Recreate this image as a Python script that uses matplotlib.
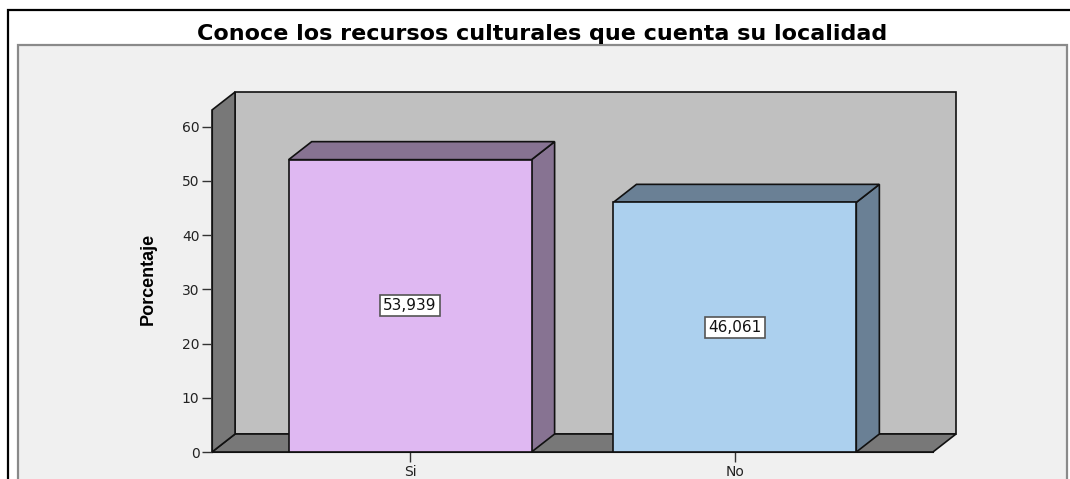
import matplotlib.pyplot as plt
from matplotlib.patches import Polygon, Rectangle

# data
categories = ['Si', 'No']
values = [53.939, 46.061]
value_labels = ['53,939', '46,061']
yticks = [0, 10, 20, 30, 40, 50, 60]
title = 'Conoce los recursos culturales que cuenta su localidad'
ylabel = 'Porcentaje'

front_colors = ['#dfb8f2', '#acd0ee']
side_colors = ['#877392', '#6a8095']

# geometry of the fake 3D box
x0, x1 = -0.61, 1.61
ytop = 63.1
dx, dy = 0.071, 3.32
bar_w = 0.748

fig = plt.figure(figsize=(10.7, 4.79), dpi=100)
fig.patch.set_facecolor('white')

# outer frame and inner panel
fig.patches.append(Rectangle((0.0075, -0.05), 1.1, 1.029, transform=fig.transFigure,
                             facecolor='white', edgecolor='black', lw=1.6, zorder=-3))
fig.patches.append(Rectangle((0.0168, -0.05), 0.9804, 0.956, transform=fig.transFigure,
                             facecolor='#f0f0f0', edgecolor='#8a8a8a', lw=1.6, zorder=-2))

ax = fig.add_axes([212/1070, 27/479, (956-212)/1070, (452-92)/479])
ax.set_facecolor('none')
ax.set_xlim(x0, x1 + dx)
ax.set_ylim(0, ytop + dy)

edge = dict(edgecolor='#111111', lw=1.2, clip_on=False)

# back wall, floor, left wall
ax.add_patch(Polygon([(x0+dx, dy), (x1+dx, dy), (x1+dx, ytop+dy), (x0+dx, ytop+dy)],
                     closed=True, facecolor='#c0c0c0', **edge))
ax.add_patch(Polygon([(x0, 0), (x1, 0), (x1+dx, dy), (x0+dx, dy)],
                     closed=True, facecolor='#787878', **edge))
ax.add_patch(Polygon([(x0, 0), (x0+dx, dy), (x0+dx, ytop+dy), (x0, ytop)],
                     closed=True, facecolor='#787878', **edge))

# bars
for i, v in enumerate(values):
    l, r = i - bar_w/2, i + bar_w/2
    ax.add_patch(Polygon([(r, 0), (r+dx, dy), (r+dx, v+dy), (r, v)], closed=True,
                         facecolor=side_colors[i], **edge))
    ax.add_patch(Polygon([(l, v), (r, v), (r+dx, v+dy), (l+dx, v+dy)], closed=True,
                         facecolor=side_colors[i], **edge))
    ax.add_patch(Rectangle((l, 0), bar_w, v, facecolor=front_colors[i], **edge))
    ax.text(i, v/2, value_labels[i], ha='center', va='center', fontsize=11,
            family='DejaVu Sans', color='#111111',
            bbox=dict(boxstyle='square,pad=0.2', facecolor='white', edgecolor='#555555', lw=1.2))

# axes
for s in ['top', 'right']:
    ax.spines[s].set_visible(False)
ax.spines['left'].set_bounds(0, ytop)
ax.spines['bottom'].set_bounds(x0, x1)
ax.spines['left'].set_color('#111111')
ax.spines['bottom'].set_color('#111111')
ax.set_yticks(yticks)
ax.set_xticks(range(len(categories)))
ax.set_xticklabels(categories)
ax.tick_params(axis='both', length=7, width=1, color='#333333', labelsize=10,
               labelcolor='#222222', pad=2)
for lab in ax.get_xticklabels() + ax.get_yticklabels():
    lab.set_family('DejaVu Sans')

fig.text(542/1070, 1 - 34/479, title, ha='center', va='center', fontsize=16,
         fontweight='bold', family='DejaVu Sans', color='black')
fig.text(148/1070, 1 - 279/479, ylabel, ha='center', va='center', rotation=90,
         fontsize=13, fontweight='bold', family=['Liberation Sans', 'DejaVu Sans'])

fig.savefig('out.png', dpi=100)
